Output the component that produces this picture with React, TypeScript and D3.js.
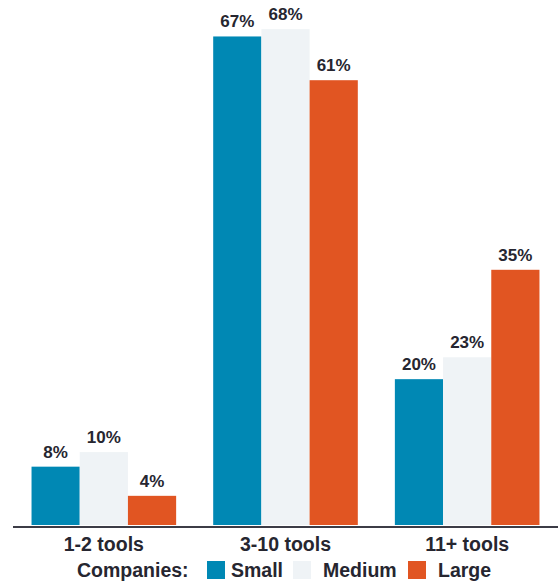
import React from "react";
import * as d3 from "d3";

const categories = ["1-2 tools", "3-10 tools", "11+ tools"];
const seriesNames = ["Small", "Medium", "Large"];
const smallValues = [8, 67, 20];
const mediumValues = [10, 68, 23];
const largeValues = [4, 61, 35];
const seriesColors = ["#0088b4", "#eff3f6", "#e15522"];
const legendTitle = "Companies:";

const W = 558;
const H = 581;
const FONT = "'Liberation Sans', Arial, Helvetica, sans-serif";
const TEXT = "#262630";

export default function App() {
  const values = [smallValues, mediumValues, largeValues];
  const x0 = d3
    .scaleBand<string>()
    .domain(categories)
    .range([13, 558])
    .paddingInner(0.204)
    .paddingOuter(0.102);
  const x1 = d3
    .scaleBand<string>()
    .domain(seriesNames)
    .range([0, x0.bandwidth()])
    .padding(0);
  const y = d3.scaleLinear().domain([0, 72]).range([525, 0]);

  const legendX = [
    { sw: 207, tx: 231 },
    { sw: 293, tx: 323 },
    { sw: 408, tx: 438 },
  ];

  return (
    <svg
      width={W}
      height={H}
      style={{ position: "absolute", left: 0, top: 0, background: "#fff" }}
      fontFamily={FONT}
    >
      {categories.map((cat, ci) => (
        <g key={cat} transform={`translate(${x0(cat)},0)`}>
          {seriesNames.map((s, si) => {
            const v = values[si][ci];
            const bx = x1(s)!;
            return (
              <g key={s}>
                <rect
                  x={bx}
                  y={y(v)}
                  width={x1.bandwidth()}
                  height={y(0) - y(v)}
                  fill={seriesColors[si]}
                />
                <text
                  x={bx + x1.bandwidth() / 2}
                  y={y(v) - 9}
                  textAnchor="middle"
                  fontSize={17}
                  fontWeight="bold"
                  fill={TEXT}
                >
                  {v}%
                </text>
              </g>
            );
          })}
          <text
            x={x0.bandwidth() / 2}
            y={551}
            textAnchor="middle"
            fontSize={19.5}
            fontWeight="bold"
            fill={TEXT}
          >
            {cat}
          </text>
        </g>
      ))}
      <line x1={13} x2={558} y1={527} y2={527} stroke="#3c3c46" strokeWidth={2.2} />
      <text x={77} y={577} fontSize={19.5} fontWeight="bold" fill={TEXT}>
        {legendTitle}
      </text>
      {seriesNames.map((s, i) => (
        <g key={s}>
          <rect x={legendX[i].sw} y={561} width={18} height={18} fill={seriesColors[i]} />
          <text x={legendX[i].tx} y={577} fontSize={19.5} fontWeight="bold" fill={TEXT}>
            {s}
          </text>
        </g>
      ))}
    </svg>
  );
}
